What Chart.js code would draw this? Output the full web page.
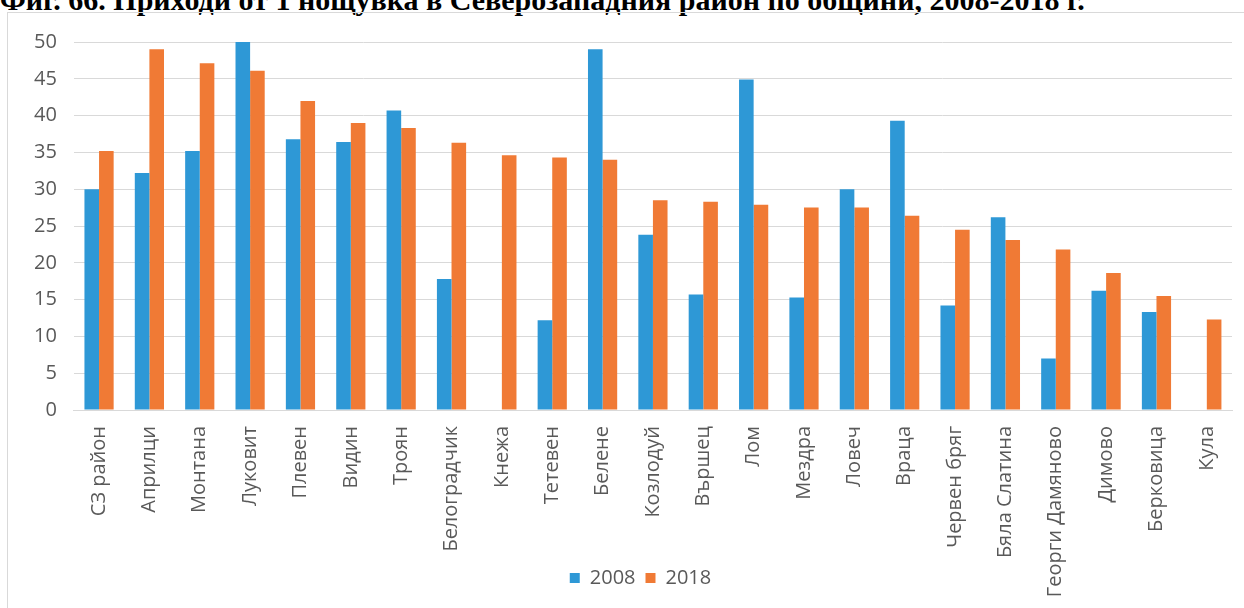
<!DOCTYPE html>
<html>
<head>
<meta charset="utf-8">
<script src="https://cdn.jsdelivr.net/npm/chart.js@4"></script>
<style>
  body { margin: 0; background: #fff; width: 1244px; height: 608px; overflow: hidden; position: relative; }
  #title {
    position: absolute; left: 0px; top: -15px; white-space: nowrap;
    font-family: "Liberation Serif", "DejaVu Serif", serif; font-weight: bold;
    font-size: 30px; line-height: 30px; color: #000;
  }
  #frame {
    position: absolute; left: 7px; top: 12px; width: 1237px; height: 600px;
    border-left: 1px solid #d9d9d9; border-top: 1px solid #d9d9d9;
  }
</style>
</head>
<body>
<div id="title">Фиг. 66. Приходи от 1 нощувка в Северозападния район по общини, 2008-2018 г.</div>
<div id="frame"><canvas id="chart" width="1236" height="595"></canvas></div>
<script>
// Municipalities (categories)
const municipalities = [
  "СЗ район", "Априлци", "Монтана", "Луковит", "Плевен", "Видин", "Троян",
  "Белоградчик", "Кнежа", "Тетевен", "Белене", "Козлодуй", "Вършец", "Лом",
  "Мездра", "Ловеч", "Враца", "Червен бряг", "Бяла Слатина", "Георги Дамяново",
  "Димово", "Берковица", "Кула"
];

// Revenue per overnight stay
const values2008 = [
  30.0, 32.2, 35.2, 50.0, 36.8, 36.4, 40.7,
  17.8, null, 12.2, 49.0, 23.8, 15.7, 44.9,
  15.3, 30.0, 39.3, 14.2, 26.2, 7.0,
  16.2, 13.3, null
];
const values2018 = [
  35.2, 49.0, 47.1, 46.1, 42.0, 39.0, 38.3,
  36.3, 34.6, 34.3, 34.0, 28.5, 28.3, 27.9,
  27.5, 27.5, 26.4, 24.5, 23.1, 21.8,
  18.6, 15.5, 12.3
];

const seriesLabels = ["2008", "2018"];

const tickFont = { family: "'Open Sans', 'Noto Sans', sans-serif", size: 20 };

// the x axis is kept short so the legend sits beside the long labels;
// widen its clip box afterwards so those labels are not cut off,
// and nudge the legend a little to the right like in the original
const unclipLabels = {
  id: "unclipLabels",
  afterLayout(chart) {
    chart.scales.x.bottom = chart.height;
    chart.legend.left += 16;
    chart.legend.right += 16;
  },
};

const ctx = document.getElementById("chart").getContext("2d");
new Chart(ctx, {
  type: "bar",
  data: {
    labels: municipalities,
    datasets: [
      {
        label: seriesLabels[0],
        data: values2008,
        backgroundColor: "#2e98d6",
        categoryPercentage: 0.58,
        barPercentage: 1.0,
      },
      {
        label: seriesLabels[1],
        data: values2018,
        backgroundColor: "#f07a35",
        categoryPercentage: 0.58,
        barPercentage: 1.0,
      },
    ],
  },
  options: {
    responsive: false,
    animation: false,
    layout: { padding: { left: 9, right: 12, top: 18, bottom: 10 } },
    scales: {
      x: {
        grid: { display: false },
        border: { color: "#d9d9d9" },
        ticks: {
          color: "#595959",
          font: tickFont,
          minRotation: 90,
          maxRotation: 90,
          autoSkip: false,
          padding: 8,
        },
        afterFit: (scale) => { scale.height = 148; },
      },
      y: {
        min: 0,
        max: 50,
        ticks: { stepSize: 5, color: "#595959", font: tickFont, padding: 17 },
        grid: { color: "#d9d9d9", drawTicks: false },
        border: { display: false },
      },
    },
    plugins: {
      legend: {
        position: "bottom",
        labels: {
          color: "#595959",
          font: tickFont,
          boxWidth: 10,
          boxHeight: 10,
          padding: 10,
        },
      },
      tooltip: { enabled: false },
    },
  },
  plugins: [unclipLabels],
});
</script>
</body>
</html>
